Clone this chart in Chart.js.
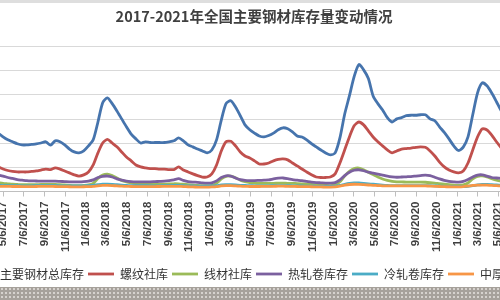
<!DOCTYPE html>
<html>
<head>
<meta charset="utf-8">
<script src="https://cdn.jsdelivr.net/npm/chart.js@4/dist/chart.umd.min.js"></script>
<style>
  html, body { margin: 0; padding: 0; width: 500px; height: 300px; overflow: hidden; background: #fff; }
  #wrap { position: absolute; left: -70px; top: 0; width: 640px; height: 300px; }
  #topband { position: absolute; left: 0; top: 0; width: 500px; height: 3px; background: #dedede; }
  #botband { position: absolute; left: 0; top: 287px; width: 500px; height: 13px; background-color: #a6a19b;
    background-image: radial-gradient(circle, #d6d2ce 0.9px, transparent 1.3px); background-size: 4px 4px; }
</style>
</head>
<body>
<div id="wrap"><canvas id="c"></canvas></div>
<div id="topband"></div>
<div id="botband"></div>
<script>
const titleText = '2017-2021年全国主要钢材库存量变动情况';
const seriesNames = ['主要钢材总库存', '螺纹社库', '线材社库', '热轧卷库存', '冷轧卷库存', '中厚板库存'];
const seriesColors = ['#4674ad', '#c0504d', '#9bbb59', '#7b609f', '#4bacc6', '#f79646'];

const dates = [
  '2017-04-08','2017-04-22','2017-05-06','2017-05-20','2017-06-03','2017-06-17','2017-07-01','2017-07-15','2017-07-29','2017-08-12',
  '2017-08-26','2017-09-09','2017-09-23','2017-10-07','2017-10-21','2017-11-04','2017-11-18','2017-12-02','2017-12-16','2017-12-30',
  '2018-01-13','2018-01-27','2018-02-10','2018-02-24','2018-03-10','2018-03-24','2018-04-07','2018-04-21','2018-05-05','2018-05-19',
  '2018-06-02','2018-06-16','2018-06-30','2018-07-14','2018-07-28','2018-08-11','2018-08-25','2018-09-08','2018-09-22','2018-10-06',
  '2018-10-20','2018-11-03','2018-11-17','2018-12-01','2018-12-15','2018-12-29',
  '2019-01-12','2019-01-26','2019-02-09','2019-02-23','2019-03-09','2019-03-23','2019-04-06','2019-04-20','2019-05-04','2019-05-18',
  '2019-06-01','2019-06-15','2019-06-29','2019-07-13','2019-07-27','2019-08-10','2019-08-24','2019-09-07','2019-09-21','2019-10-05',
  '2019-10-19','2019-11-02','2019-11-16','2019-11-30','2019-12-14','2019-12-28',
  '2020-01-11','2020-01-25','2020-02-08','2020-02-22','2020-03-07','2020-03-21','2020-04-04','2020-04-18','2020-05-02','2020-05-16',
  '2020-05-30','2020-06-13','2020-06-27','2020-07-11','2020-07-25','2020-08-08','2020-08-22','2020-09-05','2020-09-19','2020-10-03',
  '2020-10-17','2020-10-31','2020-11-14','2020-11-28','2020-12-12','2020-12-26',
  '2021-01-09','2021-01-23','2021-02-06','2021-02-20','2021-03-06','2021-03-20','2021-04-03','2021-04-17','2021-05-01','2021-05-15',
  '2021-05-29','2021-06-12'
];

const totalStock = [
  1280,1210,1130,1070,1030,990,965,965,975,985,
  1005,1030,960,1050,1030,965,880,820,800,840,
  945,1070,1440,1840,1940,1820,1670,1505,1340,1190,
  1090,1005,1030,1015,1015,1015,1015,1030,1050,1110,
  1050,965,925,880,840,800,
  860,1070,1480,1820,1880,1750,1570,1380,1280,1210,
  1150,1130,1160,1210,1280,1320,1300,1235,1150,1130,
  1070,990,925,860,800,760,
  800,1110,1600,1980,2380,2630,2520,2340,1980,1820,
  1690,1530,1440,1505,1530,1570,1580,1580,1590,1590,
  1505,1465,1340,1225,1090,945,
  850,920,1130,1590,2040,2250,2190,2040,1860,1670,
  1530,1400
];
const rebarStock = [
  550,510,465,435,415,405,405,405,415,425,
  445,465,455,490,465,425,385,345,320,345,
  405,550,800,1005,1080,1005,925,820,715,635,
  550,510,490,475,475,465,465,455,455,510,
  445,405,365,330,300,300,
  365,550,840,1030,1040,945,820,735,695,635,
  570,570,590,635,665,675,655,590,530,465,
  405,345,300,290,290,300,
  365,590,860,1130,1360,1440,1380,1255,1130,1030,
  945,860,800,840,880,890,900,915,925,915,
  840,735,610,510,445,405,
  385,425,590,860,1130,1300,1275,1170,1030,905,
  800,715
];
const wireStock = [
  200,185,170,160,150,145,140,140,140,142,
  145,148,148,145,140,135,128,122,120,125,
  135,170,270,340,360,330,280,230,200,180,
  165,158,155,152,150,150,152,155,160,158,
  150,140,132,125,120,120,
  130,175,260,315,320,285,235,205,185,175,
  170,168,168,170,172,172,170,168,165,160,
  152,145,138,130,125,122,
  135,200,320,420,475,485,450,400,350,300,
  260,230,210,200,198,196,195,195,195,192,
  185,175,162,150,140,132,
  128,135,175,260,315,322,300,265,235,215,
  200,190
];
const hotRollStock = [
  360,340,320,290,270,245,235,225,220,218,
  215,215,215,215,210,205,200,200,200,205,
  215,240,290,315,320,300,260,235,215,205,
  200,200,200,200,205,210,215,225,240,265,
  230,205,195,190,180,175,
  180,220,290,325,320,280,245,230,225,225,
  230,235,240,260,275,280,265,245,235,225,
  210,195,185,180,175,175,
  185,240,330,400,440,450,430,400,380,360,
  340,320,305,295,300,305,310,320,330,340,
  330,295,260,230,210,200,
  195,210,250,300,340,345,320,290,280,270,
  260,250
];
const coldRollStock = [
  125,125,123,122,120,120,118,118,118,120,
  120,122,122,120,118,116,115,115,115,118,
  122,128,140,150,152,148,140,132,126,122,
  120,120,120,118,118,118,120,122,126,124,
  120,116,114,112,110,110,
  114,122,135,142,140,135,128,124,120,118,
  118,118,118,120,122,122,120,118,116,114,
  112,110,108,106,106,106,
  110,125,150,170,180,178,170,160,150,140,
  132,126,122,120,120,120,120,120,122,122,
  120,116,112,108,104,102,
  100,100,105,120,135,145,148,142,135,128,
  122,118
];
const plateStock = [
  110,108,106,105,104,104,103,102,102,104,
  105,106,106,104,102,100,98,96,96,98,
  102,108,118,125,126,122,116,110,106,104,
  102,102,102,102,103,104,105,106,108,106,
  102,98,95,92,90,90,
  95,102,115,122,120,115,110,106,104,104,
  104,105,106,108,110,110,108,106,104,102,
  100,98,96,94,92,92,
  96,110,130,145,150,148,142,135,128,122,
  118,116,115,115,115,116,116,118,118,116,
  112,108,104,100,98,96,
  95,100,112,125,132,134,130,125,120,116,
  112,110
];
const seriesValues = [totalStock, rebarStock, wireStock, hotRollStock, coldRollStock, plateStock];

const tickDates = [
  '2017-05-06','2017-07-06','2017-09-06','2017-11-06',
  '2018-01-06','2018-03-06','2018-05-06','2018-07-06','2018-09-06','2018-11-06',
  '2019-01-06','2019-03-06','2019-05-06','2019-07-06','2019-09-06','2019-11-06',
  '2020-01-06','2020-03-06','2020-05-06','2020-07-06','2020-09-06','2020-11-06',
  '2021-01-06','2021-03-06','2021-05-06'
];
const yMin = 0, yMax = 3000, yStep = 500;
const xRangeStart = '2016-10-26', xRangeEnd = '2021-12-04';

function toDay(s) { const p = s.split('-').map(Number); return Date.UTC(p[0], p[1] - 1, p[2]) / 86400000; }
function dayLabel(v) { const d = new Date(Math.round(v) * 86400000); return (d.getUTCMonth() + 1) + '/' + d.getUTCDate() + '/' + d.getUTCFullYear(); }

const datasets = seriesNames.map((name, i) => ({
  label: name,
  data: dates.map((d, j) => ({ x: toDay(d), y: seriesValues[i][j] })),
  borderColor: seriesColors[i],
  backgroundColor: seriesColors[i],
  borderWidth: 2.8,
  pointRadius: 0,
  tension: 0.25,
  fill: false,
  order: seriesNames.length - i
}));

new Chart(document.getElementById('c'), {
  type: 'line',
  data: { datasets },
  options: {
    responsive: true,
    maintainAspectRatio: false,
    animation: false,
    layout: { padding: { left: 8, right: 0, top: 0, bottom: 10 } },
    plugins: {
      title: {
        display: true, text: titleText, color: '#404040',
        font: { family: '"Noto Sans CJK SC"', size: 14.5, weight: 'bold' },
        padding: { top: 8, bottom: 21.3 }
      },
      legend: {
        position: 'bottom',
        labels: {
          usePointStyle: true, pointStyle: 'line', pointStyleWidth: 26,
          padding: 4, color: '#333333',
          font: { family: '"Noto Sans CJK SC"', size: 12 },
          sort: (a, b) => a.datasetIndex - b.datasetIndex
        }
      },
      tooltip: { enabled: false }
    },
    scales: {
      x: {
        type: 'linear',
        min: toDay(xRangeStart), max: toDay(xRangeEnd),
        afterBuildTicks: (scale) => { scale.ticks = tickDates.map(d => ({ value: toDay(d) })); },
        afterFit: (scale) => { scale.height = 72.5; },
        ticks: {
          autoSkip: false, maxRotation: 90, minRotation: 90, padding: 5,
          color: '#404040', font: { family: '"Liberation Sans"', size: 11.5, weight: 'bold' },
          callback: (v) => dayLabel(v)
        },
        grid: { drawOnChartArea: false, drawTicks: true, tickLength: 5, color: '#bfbfbf' },
        border: { display: true, color: '#bfbfbf', width: 1 }
      },
      y: {
        min: yMin, max: yMax,
        ticks: { display: false, stepSize: yStep },
        grid: { color: '#d9d9d9', drawTicks: false },
        border: { display: false }
      }
    }
  }
});
</script>
</body>
</html>
